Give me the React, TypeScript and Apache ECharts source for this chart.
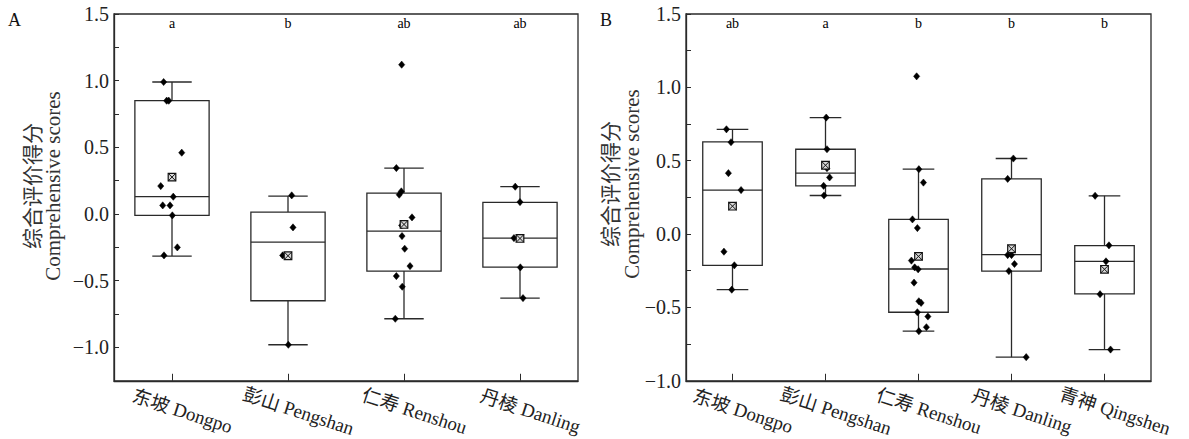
import React, { useEffect, useRef } from 'react';
import * as echarts from 'echarts';

const catsA = ['东坡 Dongpo', '彭山 Pengshan', '仁寿 Renshou', '丹棱 Danling'];
const catsB = ['东坡 Dongpo', '彭山 Pengshan', '仁寿 Renshou', '丹棱 Danling', '青神 Qingshen'];

const lettersA = ['a', 'b', 'ab', 'ab'];
const lettersB = ['ab', 'a', 'b', 'b', 'b'];

// box statistics per site: [min, Q1, median, Q3, max]
const boxA = [
  [-0.315, -0.01, 0.13, 0.85, 0.99],
  [-0.98, -0.65, -0.21, 0.015, 0.135],
  [-0.785, -0.4275, -0.1275, 0.1575, 0.345],
  [-0.63, -0.3975, -0.18, 0.0875, 0.205],
];
const meanA = [0.277, -0.3125, -0.078, -0.183];

const boxB = [
  [-0.379, -0.213, 0.3, 0.628, 0.714],
  [0.263, 0.329, 0.415, 0.578, 0.794],
  [-0.662, -0.533, -0.238, 0.1, 0.442],
  [-0.839, -0.252, -0.14, 0.376, 0.515],
  [-0.787, -0.408, -0.186, -0.079, 0.261],
];
const meanB = [0.19, 0.469, -0.152, -0.1, -0.24];

// individual comprehensive scores per site
const ptsA = [
  [0.99, 0.85, 0.85, 0.46, 0.21, 0.13, 0.065, 0.065, -0.01, -0.25, -0.31],
  [0.14, -0.1, -0.31, -0.98],
  [1.12, 0.345, 0.17, 0.145, -0.025, -0.085, -0.165, -0.26, -0.39, -0.465, -0.545, -0.785],
  [0.205, 0.09, -0.18, -0.4, -0.63],
];
const ptsB = [
  [0.714, 0.626, 0.415, 0.3, -0.12, -0.213, -0.379],
  [0.794, 0.578, 0.449, 0.386, 0.329, 0.263],
  [1.075, 0.442, 0.351, 0.1, 0.041, -0.181, -0.227, -0.24, -0.331, -0.458, -0.469, -0.533, -0.562, -0.635, -0.662],
  [0.515, 0.376, -0.143, -0.143, -0.204, -0.252, -0.839],
  [0.261, -0.077, -0.186, -0.41, -0.787],
];

// horizontal jitter of each point (fraction of a category band)
const jitA = [
  [-0.072, -0.046, -0.028, 0.084, -0.097, 0.011, -0.08, -0.017, 0.003, 0.046, -0.069],
  [0.032, 0.043, -0.046, 0.003],
  [-0.02, -0.066, -0.023, -0.041, 0.069, -0.02, -0.017, 0.006, 0.052, -0.066, -0.015, -0.075],
  [-0.041, 0, -0.052, 0.003, 0.026],
];
const jitB = [
  [-0.065, -0.016, -0.044, 0.092, -0.092, 0.02, -0.008],
  [0.008, 0.016, 0.016, 0.044, -0.02, -0.016],
  [-0.02, 0.004, 0.053, -0.065, -0.012, -0.076, -0.041, -0.004, -0.048, 0.004, 0.028, -0.012, 0.101, 0.085, 0.004],
  [0.02, -0.041, -0.041, 0, 0.032, -0.028, 0.158],
  [-0.101, 0.048, 0.016, -0.048, 0.065],
];

const yTitleCN = '综合评价得分';
const yTitleEN = 'Comprehensive scores';

const FONT = 'Liberation Serif, Noto Sans CJK SC, serif';
const LINE = '#2a2a2a';

function fmt(v: number) {
  const r = Math.round(v * 100) / 100;
  if (Math.abs((r * 2) - Math.round(r * 2)) > 1e-6) return '';
  return r.toFixed(1).replace('-', '\u2212');
}

function panelSeries(gi: number, box: number[][], mean: number[], pts: number[][], jit: number[][], letters: string[]) {
  const boxData = box.map((b, i) => [i, ...b]);
  const ptData: number[][] = [];
  pts.forEach((arr, i) => arr.forEach((v, k) => ptData.push([i, v, jit[i][k]])));
  const meanData = mean.map((m, i) => [i, m]);
  return [
    {
      type: 'custom',
      xAxisIndex: gi,
      yAxisIndex: gi,
      z: 2,
      data: boxData,
      encode: { x: 0, y: [1, 2, 3, 4, 5] },
      renderItem: (params: any, api: any) => {
        const i = api.value(0);
        const mn = api.value(1), q1 = api.value(2), md = api.value(3), q3 = api.value(4), mx = api.value(5);
        const band = api.size([1, 0])[0];
        const x = api.coord([i, md])[0];
        const y = (v: number) => api.coord([i, v])[1];
        const bw = band * 0.32;
        const cw = band * 0.17;
        const st = { stroke: LINE, lineWidth: 1.3, fill: null };
        const topY = api.coord([i, 1.5])[1];
        return {
          type: 'group',
          children: [
            { type: 'line', shape: { x1: x, y1: y(q3), x2: x, y2: y(mx) }, style: st },
            { type: 'line', shape: { x1: x, y1: y(q1), x2: x, y2: y(mn) }, style: st },
            { type: 'line', shape: { x1: x - cw, y1: y(mx), x2: x + cw, y2: y(mx) }, style: st },
            { type: 'line', shape: { x1: x - cw, y1: y(mn), x2: x + cw, y2: y(mn) }, style: st },
            { type: 'rect', shape: { x: x - bw, y: y(q3), width: 2 * bw, height: y(q1) - y(q3) }, style: { stroke: LINE, lineWidth: 1.3, fill: '#fff' } },
            { type: 'line', shape: { x1: x - bw, y1: y(md), x2: x + bw, y2: y(md) }, style: st },
            {
              type: 'text',
              x: x,
              y: topY + 9,
              style: { text: letters[params.dataIndex], fontFamily: FONT, fontSize: 14, fill: '#000', align: 'center', verticalAlign: 'middle' },
            },
          ],
        };
      },
    },
    {
      type: 'custom',
      xAxisIndex: gi,
      yAxisIndex: gi,
      z: 3,
      data: ptData,
      encode: { x: 0, y: 1 },
      renderItem: (params: any, api: any) => {
        const band = api.size([1, 0])[0];
        const p = api.coord([api.value(0), api.value(1)]);
        const cx = p[0] + api.value(2) * band;
        const cy = p[1];
        return {
          type: 'polygon',
          shape: { points: [[cx, cy - 3.6], [cx + 3.1, cy], [cx, cy + 3.6], [cx - 3.1, cy]] },
          style: { fill: '#000', stroke: '#000', lineWidth: 0.5 },
        };
      },
    },
    {
      type: 'custom',
      xAxisIndex: gi,
      yAxisIndex: gi,
      z: 4,
      data: meanData,
      encode: { x: 0, y: 1 },
      renderItem: (params: any, api: any) => {
        const p = api.coord([api.value(0), api.value(1)]);
        const h = 3.8;
        const st = { stroke: '#111', lineWidth: 1 };
        return {
          type: 'group',
          children: [
            { type: 'rect', shape: { x: p[0] - h, y: p[1] - h, width: 2 * h, height: 2 * h }, style: { fill: '#d8d8d8', stroke: '#111', lineWidth: 1.2 } },
            { type: 'line', shape: { x1: p[0] - h, y1: p[1] - h, x2: p[0] + h, y2: p[1] + h }, style: st },
            { type: 'line', shape: { x1: p[0] + h, y1: p[1] - h, x2: p[0] - h, y2: p[1] + h }, style: st },
          ],
        };
      },
    },
  ];
}

function xAxisOf(gi: number, cats: string[]) {
  return {
    type: 'category',
    gridIndex: gi,
    data: cats,
    boundaryGap: true,
    axisLine: { show: true, onZero: false, lineStyle: { color: LINE, width: 1.3 } },
    axisTick: { show: true, inside: true, alignWithLabel: true, length: 7, lineStyle: { color: LINE, width: 1 } },
    axisLabel: {
      interval: 0,
      rotate: -18,
      align: 'center',
      verticalAlign: 'middle',
      margin: 27,
      padding: [0, 0, 0, 22],
      fontFamily: FONT,
      fontSize: 19,
      color: '#222',
    },
    splitLine: { show: false },
  };
}

function yAxisOf(gi: number, min: number) {
  return {
    type: 'value',
    gridIndex: gi,
    min: min,
    max: 1.5,
    interval: 0.25,
    axisLine: { show: true, onZero: false, lineStyle: { color: LINE, width: 1.3 } },
    axisTick: { show: true, inside: true, length: 5, lineStyle: { color: LINE, width: 1 } },
    axisLabel: { formatter: fmt, fontFamily: FONT, fontSize: 20, color: '#222', margin: 5, showMinLabel: true, showMaxLabel: true },
    splitLine: { show: false },
  };
}

export default function App() {
  const ref = useRef<HTMLDivElement>(null);
  useEffect(() => {
    if (!ref.current) return;
    const chart = echarts.init(ref.current, null, { renderer: 'svg' });
    const titleStyle = (text: string) => ({ text, fontFamily: FONT, fontSize: 21, fill: '#333', align: 'center', verticalAlign: 'middle' });
    chart.setOption({
      animation: false,
      backgroundColor: '#fff',
      grid: [
        { left: 114, top: 14, width: 464, height: 367, show: true, borderColor: LINE, borderWidth: 1.3, backgroundColor: 'transparent' },
        { left: 686, top: 14, width: 465, height: 367, show: true, borderColor: LINE, borderWidth: 1.3, backgroundColor: 'transparent' },
      ],
      xAxis: [xAxisOf(0, catsA), xAxisOf(1, catsB)],
      yAxis: [yAxisOf(0, -1.25), yAxisOf(1, -1.0)],
      series: [
        ...panelSeries(0, boxA, meanA, ptsA, jitA, lettersA),
        ...panelSeries(1, boxB, meanB, ptsB, jitB, lettersB),
      ],
      graphic: [
        { type: 'text', left: 8, top: 11, style: { text: 'A', fontFamily: FONT, fontSize: 18, fill: '#111' } },
        { type: 'text', left: 600, top: 11, style: { text: 'B', fontFamily: FONT, fontSize: 18, fill: '#111' } },
        { type: 'text', x: 33, y: 186, rotation: Math.PI / 2, style: titleStyle(yTitleCN) },
        { type: 'text', x: 53, y: 186, rotation: Math.PI / 2, style: titleStyle(yTitleEN) },
        { type: 'text', x: 611, y: 184, rotation: Math.PI / 2, style: titleStyle(yTitleCN) },
        { type: 'text', x: 632, y: 184, rotation: Math.PI / 2, style: titleStyle(yTitleEN) },
      ],
    });
    return () => chart.dispose();
  }, []);
  return <div ref={ref} style={{ position: 'fixed', left: 0, top: 0, width: 1189, height: 439 }} />;
}
